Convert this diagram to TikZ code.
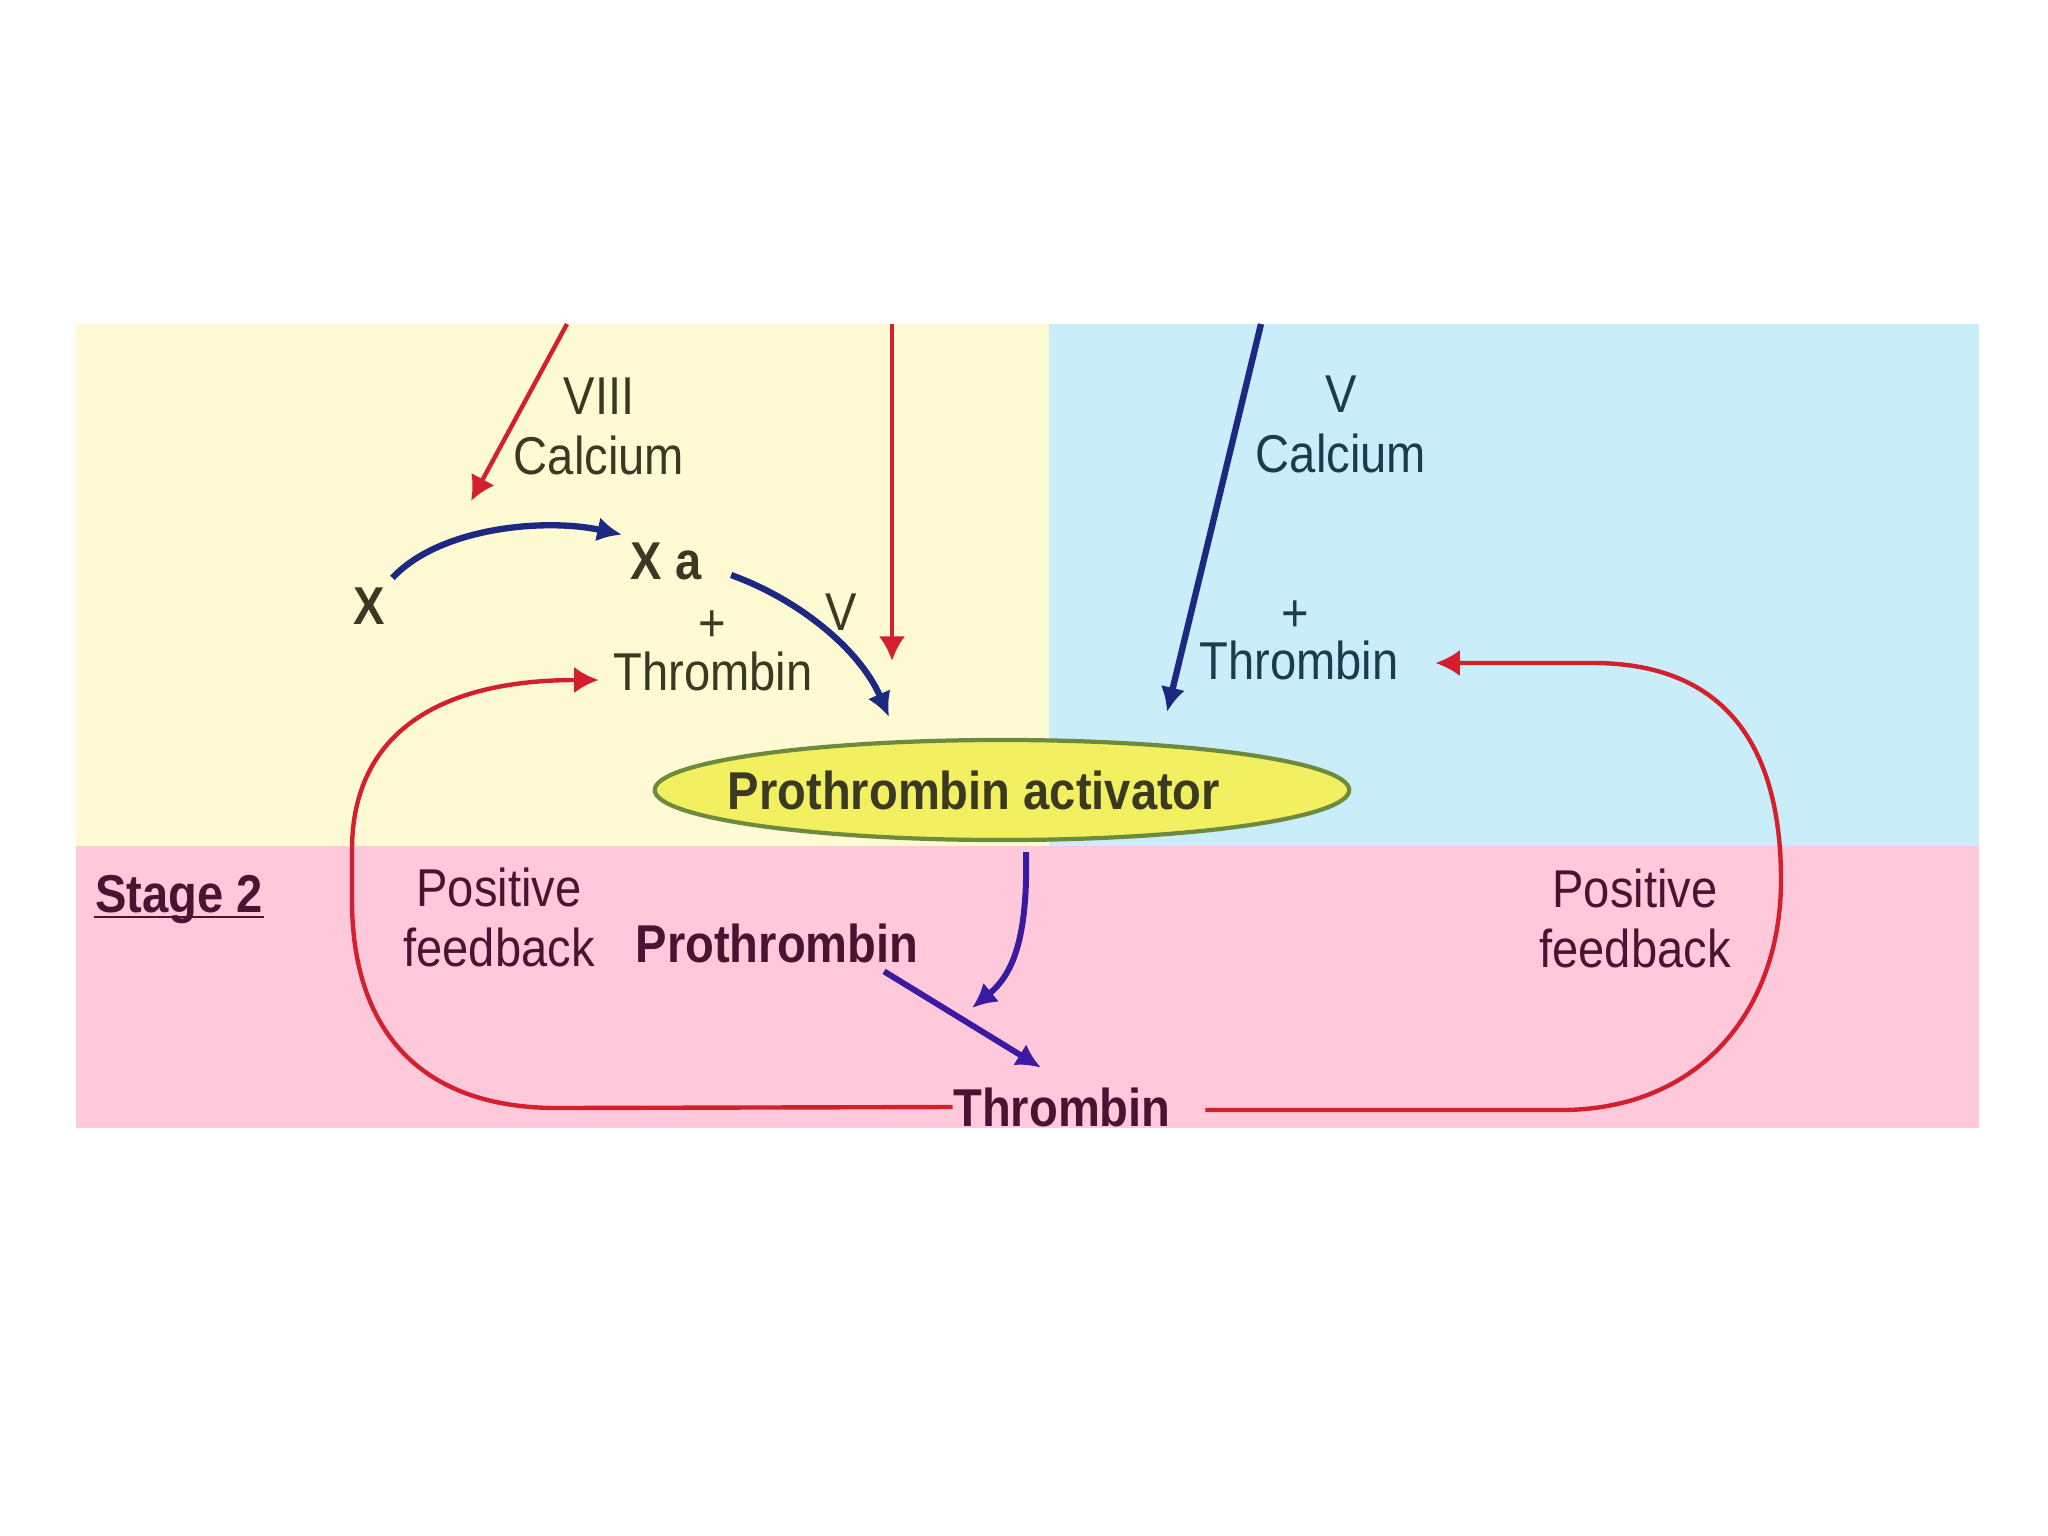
\documentclass[tikz,border=0pt]{standalone}
\usepackage{fontspec}
\setmainfont{Liberation Sans}
\usetikzlibrary{arrows.meta,shapes.geometric}
\definecolor{yellowbg}{HTML}{FDFAD4}
\definecolor{bluebg}{HTML}{C9EEF9}
\definecolor{pinkbg}{HTML}{FFC9DB}
\definecolor{ellfill}{HTML}{F2F060}
\definecolor{ellborder}{HTML}{6E8B3D}
\definecolor{redln}{HTML}{D4202C}
\definecolor{navyln}{HTML}{1B2A80}
\definecolor{purpleln}{HTML}{3A1AA0}
\definecolor{ytext}{HTML}{3A3A22}
\definecolor{btext}{HTML}{1C3C4E}
\definecolor{ptext}{HTML}{4A1430}
\begin{document}
\begin{tikzpicture}[x=0.01cm,y=-0.01cm,
  txt/.style={inner sep=0pt, yscale=1.13, transform shape, align=center,
    font=\fontsize{13.4}{15.1}\selectfont},
  boldtxt/.style={txt, font=\fontsize{13.4}{15.1}\selectfont\bfseries},
  redarr/.style={draw=redln, line width=1.25pt, -{Latex[length=7pt,width=7.5pt]}},
  bluearr/.style={draw=navyln, line width=1.8pt, -{Latex[length=7pt,width=7pt]}},
  purparr/.style={draw=purpleln, line width=1.7pt, -{Latex[length=7pt,width=7pt]}}]
\useasboundingbox (0,0) rectangle (2048,1536);
\fill[white] (0,0) rectangle (2048,1536);
\fill[yellowbg] (76,324) rectangle (1049,846);
\fill[bluebg] (1049,324) rectangle (1979,846);
\fill[pinkbg] (76,846) rectangle (1979,1128);

% yellow panel
\node[txt, text=ytext] (viii) at (599,426) {VIII\\Calcium};
\node[boldtxt, text=ytext] (x) at (369,606) {X};
\node[boldtxt, text=ytext] (xa) at (666,561) {X a};
\node[txt, text=ytext] (vl) at (841,612) {V};
\node[txt, text=ytext] (plusl) at (712,626) {+};
\node[txt, text=ytext] (thl) at (713,671) {Thrombin};

% blue panel
\node[txt, text=btext] (vcal) at (1341,424) {V\\Calcium};
\node[txt, text=btext] (plusr) at (1295,616) {+};
\node[txt, text=btext] (thr) at (1299,660) {Thrombin};

% ellipse
\node[ellipse, draw=ellborder, fill=ellfill, line width=1.2pt, inner sep=0pt,
  minimum width=6.94cm, minimum height=1.0cm, text=ytext,
  font=\fontsize{13.4}{15.1}\selectfont\bfseries] (act) at (1002,790)
  {\makebox[0pt][c]{\scalebox{1}[1.13]{Prothrombin activator}\rule{0.56cm}{0pt}}};

% pink panel
\node[boldtxt, text=ptext, anchor=base] (stage) at (179,912) {Stage 2};
\draw[ptext, line width=0.8pt] ([yshift=-1.4pt]stage.base west) -- ([yshift=-1.4pt]stage.base east);
\node[txt, text=ptext] (pfl) at (499,917) {Positive\\feedback};
\node[txt, text=ptext] (pfr) at (1635,918) {Positive\\feedback};
\node[boldtxt, text=ptext] (pro) at (777,943) {Prothrombin};
\node[boldtxt, text=ptext] (thb) at (1062,1107) {Thrombin};

% free ends
\coordinate (r1s) at (567,324);
\coordinate (r1e) at (471,501);
\coordinate (r2s) at (892,324);
\coordinate (r2e) at (892,661);
\coordinate (b1s) at (1261,324);
\coordinate (b1e) at (1167,712);
\coordinate (xae) at (889,717);
\coordinate (pe) at (972,1008);

% arrows
\draw[redarr] (r1s) -- (r1e);
\draw[redarr] (r2s) -- (r2e);
\draw[bluearr] (b1s) -- (b1e);
\draw[bluearr] ([shift={(7,-9)}]x.north east) .. controls (440,527) and (545,518) .. ([shift={(-8,-7)}]xa.north west);
\draw[bluearr] ([shift={(29,14)}]xa.east) .. controls (800,600) and (860,650) .. (xae);
\draw[purparr] ([shift={(24,10)}]act.south) .. controls (1028,940) and (1012,975) .. (pe);
\draw[purparr] ([shift={(-35,8)}]pro.south east) -- ([shift={(-21,-19)}]thb.north);

% feedback loops
\draw[redarr] (thb.west) -- (557,1108) .. controls (420,1108) and (352,1030) .. (352,900)
  -- (352,850) .. controls (352,740) and (430,680) .. ([shift={(-14,9)}]thl.west);
\draw[redarr] ([shift={(34,3)}]thb.east) -- (1561,1110) .. controls (1700,1110) and (1781,1010) .. (1781,880)
  .. controls (1781,740) and (1720,663) .. (1593,663) -- ([shift={(36,3)}]thr.east);
\end{tikzpicture}
\end{document}
